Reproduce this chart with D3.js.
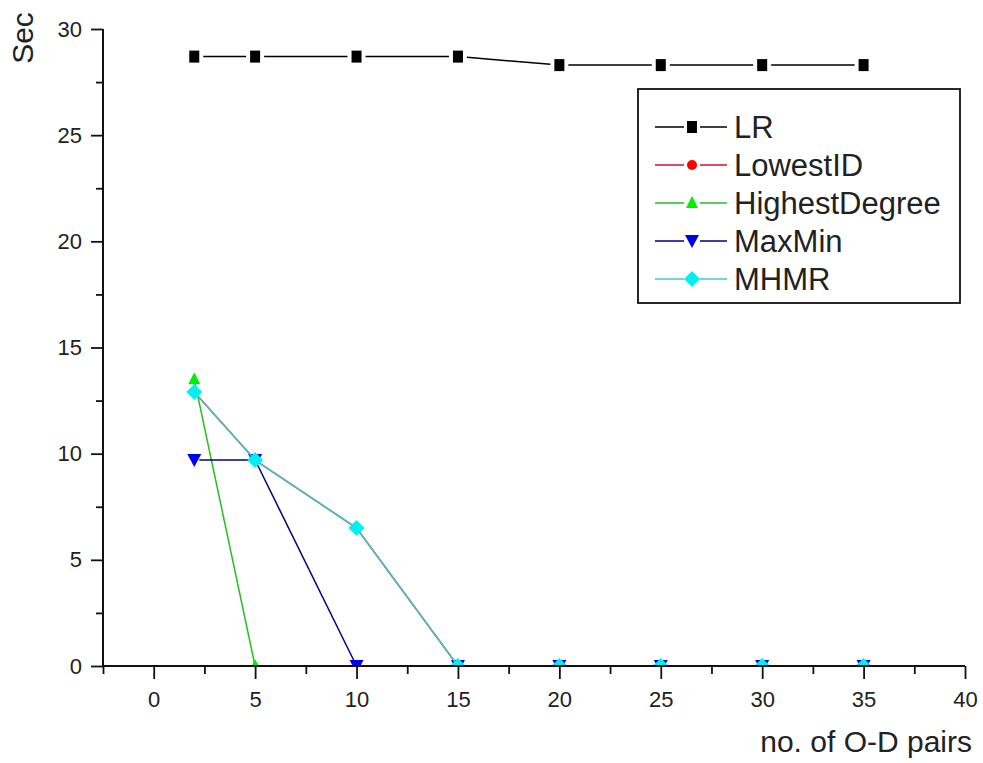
<!DOCTYPE html>
<html>
<head>
<meta charset="utf-8">
<script src="https://cdn.jsdelivr.net/npm/d3@7"></script>
<style>
  body { margin: 0; background: #fff; }
  svg text { font-family: "Liberation Sans", Arial, sans-serif; fill: #222; }
</style>
</head>
<body>
<svg id="chart" width="983" height="763"></svg>
<script>
// --- data ---
const pairs = [2, 5, 10, 15, 20, 25, 30, 35];
const lrValues = [28.7, 28.7, 28.7, 28.7, 28.3, 28.3, 28.3, 28.3];
const lowestIdValues = [12.9, 9.7, 6.5, 0, 0, 0, 0, 0];   // hidden under MHMR in the picture
const highestDegreeValues = [13.5, 0];
const maxMinValues = [9.7, 9.7, 0, 0, 0, 0, 0, 0];
const mhmrValues = [12.9, 9.7, 6.5, 0, 0, 0, 0, 0];

const seriesNames = ['LR', 'LowestID', 'HighestDegree', 'MaxMin', 'MHMR'];
const xTicks = [0, 5, 10, 15, 20, 25, 30, 35, 40];
const yTicks = [0, 5, 10, 15, 20, 25, 30];

const series = [
    { name: seriesNames[0], values: lrValues, line: '#000000', fill: '#000000', shape: 'square', gap: 9 },
    { name: seriesNames[1], values: lowestIdValues, line: '#d01030', fill: '#ff0000', shape: 'circle', gap: 4 },
    { name: seriesNames[2], values: highestDegreeValues, line: '#22c022', fill: '#00ee00', shape: 'triangle', gap: 3 },
    { name: seriesNames[3], values: maxMinValues, line: '#000080', fill: '#0000ee', shape: 'down', gap: 5 },
    { name: seriesNames[4], values: mhmrValues, line: '#40c8c8', fill: '#00f0f0', shape: 'diamond', gap: 5 }
];

const svg = d3.select('#chart');
const plot = { left: 103, right: 965, top: 29, bottom: 666 };

const x = d3.scaleLinear().domain([-2.5, 40]).range([plot.left, plot.right]);
const y = d3.scaleLinear().domain([0, 30]).range([plot.bottom, plot.top]);

// clip marks to the plot area (markers at 0 are cut in half like the original)
svg.append('clipPath').attr('id', 'plot-clip')
    .append('rect')
    .attr('x', plot.left).attr('y', plot.top - 10)
    .attr('width', plot.right - plot.left + 10)
    .attr('height', plot.bottom - plot.top + 10);

function drawMarker(g, shape, cx, cy, fill) {
    if (shape === 'square') {
        g.append('rect').attr('x', cx - 5).attr('y', cy - 6).attr('width', 10).attr('height', 12).attr('fill', fill);
    } else if (shape === 'circle') {
        g.append('circle').attr('cx', cx).attr('cy', cy).attr('r', 5).attr('fill', fill);
    } else if (shape === 'triangle') {
        g.append('path').attr('d', `M${cx},${cy - 7}L${cx + 6},${cy + 5}L${cx - 6},${cy + 5}Z`).attr('fill', fill);
    } else if (shape === 'down') {
        g.append('path').attr('d', `M${cx - 7},${cy - 6}L${cx + 7},${cy - 6}L${cx},${cy + 7}Z`).attr('fill', fill);
    } else if (shape === 'diamond') {
        g.append('path').attr('d', `M${cx},${cy - 8}L${cx + 8},${cy}L${cx},${cy + 8}L${cx - 8},${cy}Z`).attr('fill', fill);
    }
}

// line segments broken a little around each marker
function drawSeries(g, s) {
    const pts = s.values.map((v, i) => [x(pairs[i]), y(v)]);
    for (let i = 0; i < pts.length - 1; i++) {
        const [x0, y0] = pts[i];
        const [x1, y1] = pts[i + 1];
        const len = Math.hypot(x1 - x0, y1 - y0);
        const ux = (x1 - x0) / len, uy = (y1 - y0) / len;
        g.append('line')
            .attr('x1', x0 + ux * s.gap).attr('y1', y0 + uy * s.gap)
            .attr('x2', x1 - ux * s.gap).attr('y2', y1 - uy * s.gap)
            .attr('stroke', s.line).attr('stroke-width', 1.5);
    }
    pts.forEach(([cx, cy]) => drawMarker(g, s.shape, cx, cy, s.fill));
}

const marks = svg.append('g').attr('clip-path', 'url(#plot-clip)');
series.forEach(s => drawSeries(marks.append('g'), s));

// --- axes ---
const minorX = d3.range(-2.5, 40, 5);
const minorY = d3.range(2.5, 30, 5);

const xAxis = svg.append('g').attr('transform', `translate(0,${plot.bottom})`);
xAxis.call(d3.axisBottom(x).tickValues(xTicks).tickSize(13).tickPadding(7).tickFormat(d3.format('d')));
xAxis.append('g').call(d3.axisBottom(x).tickValues(minorX).tickSize(8).tickFormat(''));
xAxis.selectAll('.domain').attr('d', `M${plot.left},0H${plot.right}`);

const yAxis = svg.append('g').attr('transform', `translate(${plot.left},0)`);
yAxis.call(d3.axisLeft(y).tickValues(yTicks).tickSize(12).tickPadding(9).tickFormat(d3.format('d')));
yAxis.append('g').call(d3.axisLeft(y).tickValues(minorY).tickSize(7).tickFormat(''));
yAxis.selectAll('.domain').attr('d', `M0,${plot.top}V${plot.bottom}`);

svg.selectAll('.tick line').attr('stroke', '#111').attr('stroke-width', 1.8);
svg.selectAll('.domain').attr('stroke', '#111').attr('stroke-width', 2);
svg.selectAll('.tick text')
    .style('font-family', '"Liberation Sans", Arial, sans-serif')
    .style('font-size', '22px')
    .attr('fill', '#2a2a2a');
xAxis.selectAll('.tick text').attr('dy', '0.95em');

// axis titles
svg.append('text')
    .attr('transform', 'translate(33,38) rotate(-90)')
    .attr('text-anchor', 'middle')
    .style('font-size', '30px')
    .text('Sec');

svg.append('text')
    .attr('x', 972).attr('y', 752)
    .attr('text-anchor', 'end')
    .style('font-size', '30px')
    .text('no. of O-D pairs');

// --- legend ---
const legend = svg.append('g');
legend.append('rect')
    .attr('x', 638).attr('y', 89)
    .attr('width', 322).attr('height', 214)
    .attr('fill', '#fff').attr('stroke', '#111').attr('stroke-width', 1.8);

series.forEach((s, i) => {
    const cy = 127 + i * 38;
    const row = legend.append('g');
    row.append('line').attr('x1', 655).attr('x2', 684).attr('y1', cy).attr('y2', cy)
        .attr('stroke', s.line).attr('stroke-width', 1.5);
    row.append('line').attr('x1', 700).attr('x2', 727).attr('y1', cy).attr('y2', cy)
        .attr('stroke', s.line).attr('stroke-width', 1.5);
    drawMarker(row, s.shape, 692, cy, s.fill);
    row.append('text')
        .attr('x', 734).attr('y', cy + 11)
        .style('font-size', '31px')
        .text(s.name);
});
</script>
</body>
</html>
